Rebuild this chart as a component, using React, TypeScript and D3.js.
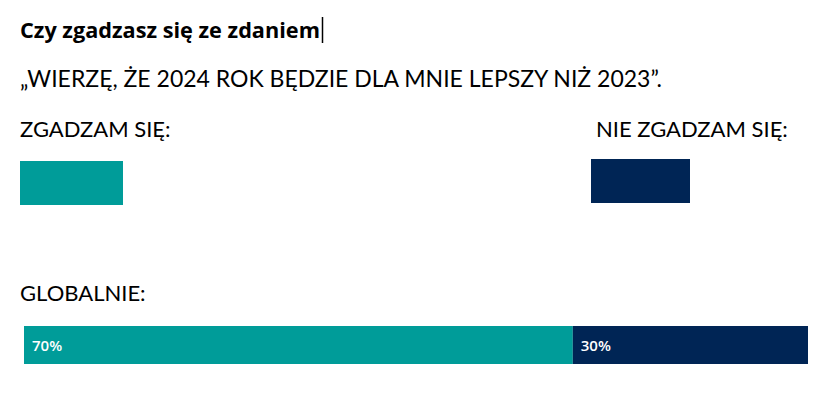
import React, { useEffect, useRef } from 'react';
import * as d3 from 'd3';

const categories = ['ZGADZAM SIĘ:', 'NIE ZGADZAM SIĘ:'];
const globalValues = [70, 30];
const colors = ['#009C99', '#002555'];
const title = 'Czy zgadzasz się ze zdaniem';
const statement = '„WIERZĘ, ŻE 2024 ROK BĘDZIE DLA MNIE LEPSZY NIŻ 2023”.';
const groupLabel = 'GLOBALNIE:';

export default function App() {
    const ref = useRef<SVGSVGElement>(null);

    useEffect(() => {
        const svg = d3.select(ref.current);
        svg.selectAll('*').remove();

        const font = 'Lato, "Open Sans", sans-serif';

        svg.append('text')
            .attr('x', 20).attr('y', 38)
            .attr('font-family', '"Open Sans", sans-serif').attr('font-weight', 700)
            .attr('font-size', 21.7).attr('fill', '#000')
            .text(title);

        // text cursor
        svg.append('line')
            .attr('x1', 322.5).attr('x2', 322.5)
            .attr('y1', 17).attr('y2', 43)
            .attr('stroke', '#000').attr('stroke-width', 1.5);

        svg.append('text')
            .attr('x', 20).attr('y', 87)
            .attr('font-family', font)
            .attr('font-size', 23).attr('fill', '#000')
            .text(statement);

        // legend
        const legendX = [20, 591];
        categories.forEach((c, i) => {
            svg.append('text')
                .attr('x', i === 0 ? 20 : 596).attr('y', 137)
                .attr('font-family', font)
                .attr('font-size', 22).attr('fill', '#000')
                .text(c);
            svg.append('rect')
                .attr('x', legendX[i]).attr('y', i === 0 ? 161 : 159)
                .attr('width', i === 0 ? 103 : 99).attr('height', 44)
                .attr('fill', colors[i]);
        });

        svg.append('text')
            .attr('x', 20).attr('y', 301)
            .attr('font-family', font)
            .attr('font-size', 22).attr('fill', '#000')
            .text(groupLabel);

        // stacked bar
        const x = d3.scaleLinear()
            .domain([0, d3.sum(globalValues)])
            .range([24, 808]);

        const stacked = globalValues.map((v, i) => ({
            v,
            start: d3.sum(globalValues.slice(0, i)),
            color: colors[i],
        }));

        const g = svg.append('g');
        g.selectAll('rect')
            .data(stacked)
            .enter()
            .append('rect')
            .attr('x', (d) => x(d.start))
            .attr('y', 326)
            .attr('width', (d) => x(d.start + d.v) - x(d.start))
            .attr('height', 38)
            .attr('fill', (d) => d.color);

        g.selectAll('text')
            .data(stacked)
            .enter()
            .append('text')
            .attr('x', (d) => x(d.start) + 8)
            .attr('y', 351)
            .attr('font-family', '"Open Sans", sans-serif')
            .attr('font-weight', 600)
            .attr('font-size', 15)
            .attr('fill', '#fff')
            .text((d) => `${d.v}%`);
    }, []);

    return (
        <svg ref={ref} width={836} height={395}
            style={{ position: 'absolute', left: 0, top: 0, background: '#fff' }} />
    );
}
